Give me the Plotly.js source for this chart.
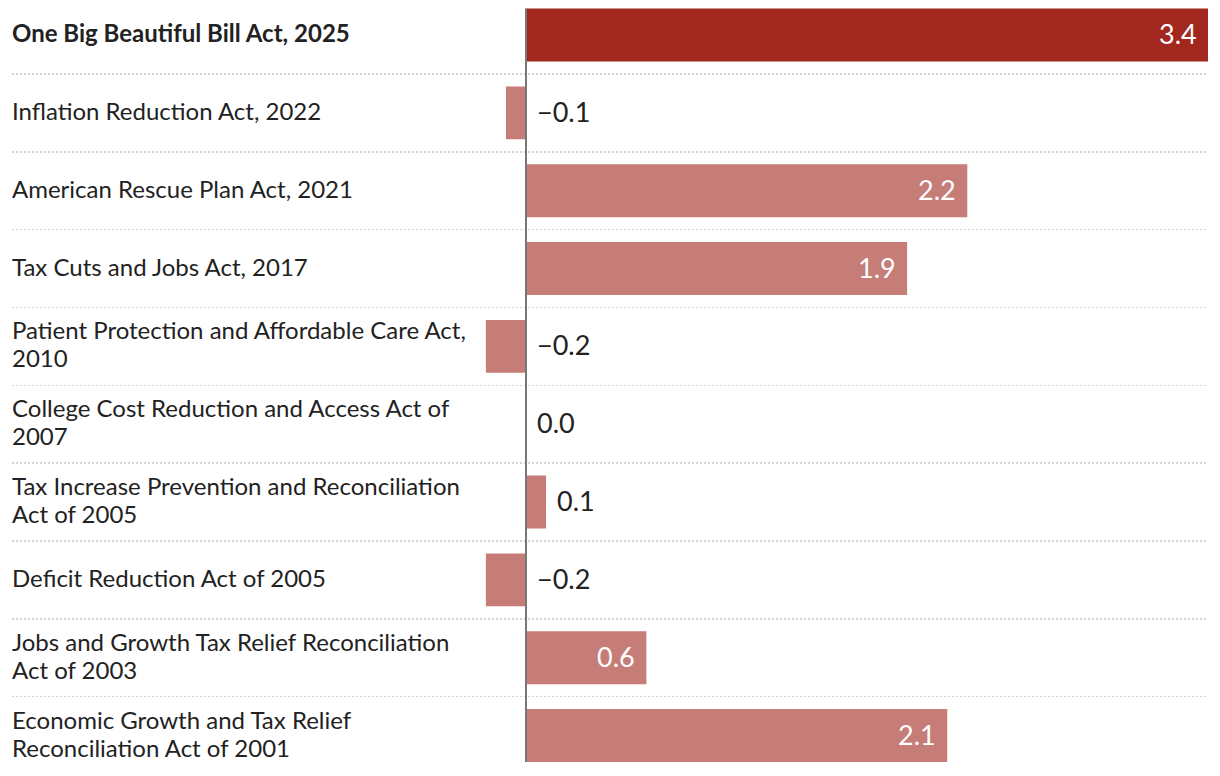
<!DOCTYPE html>
<html>
<head>
<meta charset="utf-8">
<script src="https://cdn.plot.ly/plotly-3.0.1.min.js"></script>
<style>html,body{margin:0;padding:0;background:#fff;}#chart{width:1220px;height:776px;}</style>
</head>
<body>
<div id="chart"></div>
<script>
const categories = [
  "One Big Beautiful Bill Act, 2025",
  "Inflation Reduction Act, 2022",
  "American Rescue Plan Act, 2021",
  "Tax Cuts and Jobs Act, 2017",
  "Patient Protection and Affordable Care Act,<br>2010",
  "College Cost Reduction and Access Act of<br>2007",
  "Tax Increase Prevention and Reconciliation<br>Act of 2005",
  "Deficit Reduction Act of 2005",
  "Jobs and Growth Tax Relief Reconciliation<br>Act of 2003",
  "Economic Growth and Tax Relief<br>Reconciliation Act of 2001"
];
const values = [3.4, -0.1, 2.2, 1.9, -0.2, 0.0, 0.1, -0.2, 0.6, 2.1];
const highlight = [true, false, false, false, false, false, false, false, false, false];

const FONT = "Lato, 'Open Sans', sans-serif";
const DARK_RED = "#a2281f";
const LIGHT_RED = "#c67c77";
const bargap = 0.32;
const LABEL_SIZE = 24;
const LINE_PITCH = 28;

function fmt(v) {
  const s = Math.abs(v).toFixed(1);
  return (v < 0 ? "\u2212" : "") + s;
}

const ids = categories.map((c, i) => "c" + i);

const trace = {
  type: "bar",
  orientation: "h",
  y: ids,
  x: values,
  marker: { color: highlight.map(h => h ? DARK_RED : LIGHT_RED), line: { width: 0 } },
  hoverinfo: "skip"
};

const annotations = [];
categories.forEach((c, i) => {
  const lines = c.split("<br>");
  lines.forEach((ln, k) => {
    const off = (k - (lines.length - 1) / 2) * LINE_PITCH;
    annotations.push({
      xref: "paper", yref: "y", x: 0, y: ids[i],
      xanchor: "left", yanchor: "middle", align: "left",
      xshift: -2, yshift: -off + 2.5,
      text: highlight[i] ? "<b>" + ln + "</b>" : ln,
      showarrow: false,
      font: { family: FONT, size: LABEL_SIZE, color: "#222" }
    });
  });
  const v = values[i];
  const inside = v >= 0.5;
  annotations.push({
    xref: "x", yref: "y", x: inside ? v : Math.max(v, 0), y: ids[i],
    xanchor: inside ? "right" : "left", yanchor: "middle",
    xshift: inside ? -9 : 9, yshift: 1.5,
    text: fmt(v),
    showarrow: false,
    font: { family: FONT, size: 27, color: inside ? "#fff" : "#222" }
  });
});

const n = categories.length;
const layout = {
  width: 1220, height: 776,
  margin: { l: 12, r: 12, t: 0, b: 0, pad: 0 },
  paper_bgcolor: "#fff", plot_bgcolor: "#fff",
  showlegend: false,
  bargap: bargap,
  xaxis: {
    range: [-2.5625, 3.4],
    showgrid: false, zeroline: false, showticklabels: false, ticks: "", fixedrange: true
  },
  yaxis: {
    type: "category",
    range: [n - 0.48, -0.45],
    tickson: "boundaries",
    showgrid: true, gridcolor: "#d4d4d4", gridwidth: 1.5, griddash: "2px,2px",
    showticklabels: false, ticks: "", zeroline: false, fixedrange: true
  },
  shapes: [{
    type: "line", layer: "above", xref: "x", yref: "y",
    x0: 0, x1: 0, y0: -0.5 + bargap / 2, y1: n - 0.5 - bargap / 2,
    line: { color: "#777", width: 2 }
  }],
  annotations: annotations
};

Plotly.newPlot("chart", [trace], layout, { displayModeBar: false, staticPlot: true });
</script>
</body>
</html>
